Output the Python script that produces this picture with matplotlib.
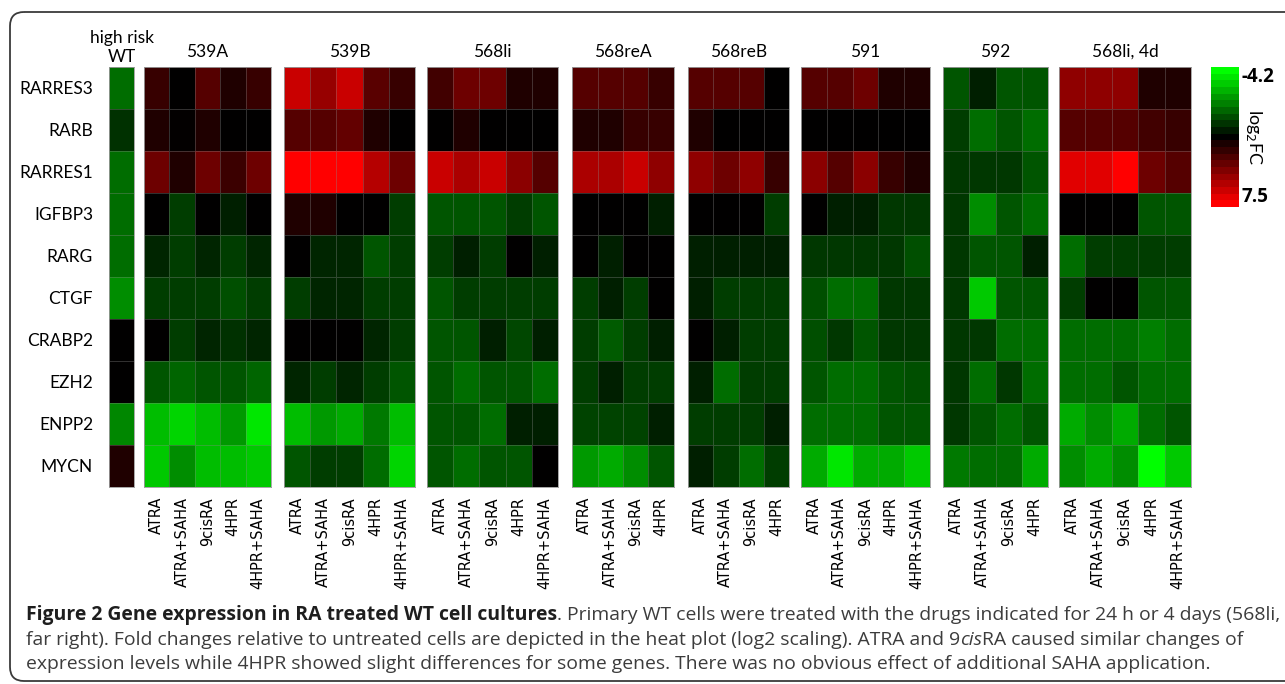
import numpy as np
import matplotlib
matplotlib.use("Agg")
import matplotlib.pyplot as plt
from matplotlib.colors import LinearSegmentedColormap, TwoSlopeNorm
from matplotlib.patches import FancyBboxPatch
from matplotlib.cm import ScalarMappable

# ---------------- data (log2 fold change) ----------------
genes = ["RARRES3", "RARB", "RARRES1", "IGFBP3", "RARG",
         "CTGF", "CRABP2", "EZH2", "ENPP2", "MYCN"]
treat5 = ["ATRA", "ATRA+SAHA", "9cisRA", "4HPR", "4HPR+SAHA"]
treat4 = ["ATRA", "ATRA+SAHA", "9cisRA", "4HPR"]
panel_titles = ["high risk\nWT", "539A", "539B", "568li", "568reA",
                "568reB", "591", "592", "568li, 4d"]
vmin, vmax = -4.2, 7.5

wt_highrisk = [[-1.8], [-0.8], [-1.8], [-1.8], [-1.8],
               [-2.3], [0.0], [0.0], [-2.2], [0.9]]

v539A = [[1.6, 0.0, 2.5, 0.9, 1.6],
         [0.9, 0.1, 0.9, 0.0, 0.0],
         [3.2, 0.9, 3.2, 1.7, 3.2],
         [0.0, -1.0, 0.0, -0.5, 0.0],
         [-0.6, -1.0, -0.6, -1.0, -0.6],
         [-1.0, -1.0, -1.0, -1.3, -1.0],
         [0.0, -1.0, -0.6, -0.8, -0.6],
         [-1.4, -1.65, -1.4, -1.4, -1.65],
         [-3.1, -3.5, -3.1, -2.5, -3.8],
         [-3.3, -2.3, -3.1, -3.1, -3.3]]

v539B = [[5.9, 4.4, 5.9, 2.6, 1.6],
         [2.5, 2.5, 2.9, 0.9, 0.0],
         [7.5, 7.5, 7.5, 5.3, 3.2],
         [0.9, 0.9, 0.0, 0.0, -1.0],
         [0.0, -0.6, -0.6, -1.4, -1.0],
         [-1.0, -0.6, -0.6, -1.0, -1.0],
         [0.0, 0.0, 0.0, -0.6, -1.0],
         [-0.6, -1.0, -0.6, -1.0, -1.4],
         [-3.1, -2.5, -2.8, -2.0, -3.1],
         [-1.4, -1.0, -1.0, -1.8, -3.5]]

v568li = [[1.9, 3.2, 3.2, 0.9, 0.9],
          [0.0, 0.9, 0.0, 0.0, 0.0],
          [5.9, 5.0, 5.9, 4.1, 2.5],
          [-1.4, -1.4, -1.4, -1.0, -1.4],
          [-1.0, -0.5, -1.0, 0.0, -0.5],
          [-1.4, -1.0, -1.0, -1.0, -1.0],
          [-1.4, -1.4, -0.5, -1.15, -0.5],
          [-1.4, -1.8, -1.4, -1.4, -1.8],
          [-1.4, -1.4, -1.8, -0.5, -0.5],
          [-1.4, -1.8, -1.4, -1.4, 0.0]]

v568reA = [[2.5, 2.5, 2.5, 1.6],
           [0.9, 0.9, 1.6, 1.6],
           [5.0, 5.0, 5.9, 4.2],
           [0.0, 0.0, 0.0, -0.5],
           [0.0, -0.5, 0.0, 0.0],
           [-1.0, -0.5, -1.0, 0.0],
           [-1.0, -1.5, -1.0, -0.5],
           [-1.0, -0.5, -1.0, -1.0],
           [-1.1, -1.1, -1.1, -0.5],
           [-2.5, -2.8, -2.3, -1.4]]

v568reB = [[2.5, 2.5, 2.5, 0.0],
           [0.9, 0.0, 0.0, 0.0],
           [4.2, 3.2, 4.2, 1.6],
           [0.0, 0.0, 0.0, -1.0],
           [-0.5, -0.5, -0.5, -0.5],
           [-0.5, -1.0, -1.0, -1.0],
           [0.0, -0.5, -1.0, -1.0],
           [-0.5, -1.8, -1.0, -1.0],
           [-1.0, -1.0, -1.0, -0.5],
           [-0.5, -1.0, -1.8, -1.0]]

v591 = [[2.5, 2.5, 3.2, 0.9, 0.9],
        [0.0, 0.0, 0.0, 0.0, 0.0],
        [4.1, 2.5, 4.1, 1.6, 0.9],
        [0.0, -0.5, -0.5, -0.9, -0.9],
        [-0.9, -0.9, -0.9, -0.9, -1.3],
        [-1.3, -1.8, -1.8, -0.9, -0.9],
        [-1.3, -0.9, -1.4, -0.9, -0.9],
        [-1.4, -1.8, -1.8, -1.4, -1.3],
        [-1.8, -1.8, -1.8, -1.4, -1.4],
        [-2.8, -3.8, -2.8, -2.8, -3.3]]

v592 = [[-1.4, -0.5, -1.4, -1.4],
        [-1.0, -1.8, -1.4, -1.8],
        [-0.9, -0.9, -0.9, -1.4],
        [-0.9, -2.3, -1.4, -1.8],
        [-0.9, -1.4, -1.4, -0.5],
        [-0.9, -3.3, -1.4, -1.4],
        [-0.9, -0.9, -1.8, -1.8],
        [-0.9, -1.8, -0.9, -1.8],
        [-0.9, -1.4, -1.8, -1.4],
        [-2.0, -1.8, -1.8, -2.8]]

v568li4d = [[4.2, 4.2, 4.2, 0.9, 0.9],
            [2.5, 2.5, 2.5, 1.9, 1.6],
            [6.6, 6.6, 7.5, 3.2, 2.5],
            [0.0, 0.0, 0.0, -1.4, -1.4],
            [-1.8, -1.0, -1.0, -1.0, -1.0],
            [-1.0, 0.0, 0.0, -1.4, -1.4],
            [-1.8, -1.8, -1.8, -2.1, -1.8],
            [-1.8, -1.8, -1.4, -1.8, -1.8],
            [-2.8, -2.3, -2.8, -1.8, -1.4],
            [-2.3, -2.8, -2.3, -4.2, -3.3]]

panel_values = [wt_highrisk, v539A, v539B, v568li, v568reA,
                v568reB, v591, v592, v568li4d]
panel_labels = [[], treat5, treat5, treat5, treat4, treat4, treat5, treat4, treat5]

# ---------------- layout (pixels) ----------------
W, H = 1285, 684
fig = plt.figure(figsize=(W / 100, H / 100), dpi=100)
fig.patch.set_facecolor("white")

panel_left = [109, 144, 284, 427, 572, 688, 801, 943, 1059]
panel_right = [134, 271, 415, 558, 674, 789, 930, 1048, 1191]
top_px, bot_px = 67, 487

def px_rect(x0, y0, x1, y1):
    return [x0 / W, 1 - y1 / H, (x1 - x0) / W, (y1 - y0) / H]

# background axes for the frame (right side runs off the picture)
bg = fig.add_axes([0, 0, 1, 1], zorder=-5)
bg.set_xlim(0, W)
bg.set_ylim(H, 0)
bg.axis("off")
bg.add_patch(FancyBboxPatch((10, 12), 1600, 669,
                            boxstyle="round,pad=0,rounding_size=14",
                            fill=False, ec="#3a3a3a", lw=1.3, clip_on=True))

cmap = LinearSegmentedColormap.from_list("gbr", [(0, 1, 0), (0, 0, 0), (1, 0, 0)])
norm = TwoSlopeNorm(vmin=vmin, vcenter=0.0, vmax=vmax)

label_font = "Lato"
for i, (vals, labs, title) in enumerate(zip(panel_values, panel_labels, panel_titles)):
    arr = np.array(vals, dtype=float)
    ax = fig.add_axes(px_rect(panel_left[i], top_px, panel_right[i], bot_px))
    ax.pcolormesh(arr, cmap=cmap, norm=norm,
                  edgecolors=(0.55, 0.55, 0.55, 0.35), linewidth=0.6)
    ax.set_xlim(0, arr.shape[1])
    ax.set_ylim(arr.shape[0], 0)
    for sp in ax.spines.values():
        sp.set_color((0.6, 0.6, 0.6))
        sp.set_linewidth(0.6)
    if labs:
        ax.set_xticks(np.arange(len(labs)) + 0.5)
        ax.set_xticklabels(labs, rotation=90, fontsize=10.5,
                           family="DejaVu Sans", va="top", ha="center")
        ax.tick_params(axis="x", length=0, pad=7.2)
    else:
        ax.set_xticks([])
    if i == 0:
        ax.set_yticks(np.arange(len(genes)) + 0.5)
        ax.set_yticklabels(genes, fontsize=12.5, family=label_font)
        ax.tick_params(axis="y", length=0, pad=11.5)
        ax.annotate(title, xy=(0.5, 1), xycoords="axes fraction",
                    xytext=(0, 1.5), textcoords="offset points",
                    ha="center", va="bottom", fontsize=12.5, family=label_font,
                    linespacing=1.2)
    else:
        ax.set_yticks([])
        ax.annotate(title, xy=(0.5, 1), xycoords="axes fraction",
                    xytext=(0, 7.2), textcoords="offset points",
                    ha="center", va="baseline", fontsize=12.5, family=label_font)

# ---------------- colorbar ----------------
cax = fig.add_axes(px_rect(1211, 67, 1239, 207))
sm = ScalarMappable(norm=norm, cmap=cmap.resampled(21))
cb = fig.colorbar(sm, cax=cax)
cb.outline.set_visible(False)
cax.invert_yaxis()
cb.set_ticks([vmin, vmax])
cb.set_ticklabels(["-4.2", "7.5"])
cax.tick_params(length=0, pad=2)
cax.text(1.55, 0.5, "log$_2$FC", transform=cax.transAxes, rotation=270,
         ha="center", va="center", fontsize=13, family=label_font)

# ---------------- caption ----------------
fig.canvas.draw()
renderer = fig.canvas.get_renderer()
tl = cax.get_yticklabels()
for t in tl:
    t.set_family("Open Sans")
    t.set_fontweight("bold")
    t.set_fontsize(13.5)
tl[0].set_va("top")
tl[1].set_va("bottom")

cap_font = "Open Sans"
bold_col, reg_col = "#1e1e1e", "#3c3c3c"
caption_lines = [
    [("Figure 2 Gene expression in RA treated WT cell cultures", "bold", "normal", bold_col),
     (". Primary WT cells were treated with the drugs indicated for 24 h or 4 days (568li,", "normal", "normal", reg_col)],
    [("far right). Fold changes relative to untreated cells are depicted in the heat plot (log2 scaling). ATRA and 9", "normal", "normal", reg_col),
     ("cis", "normal", "italic", reg_col),
     ("RA caused similar changes of", "normal", "normal", reg_col)],
    [("expression levels while 4HPR showed slight differences for some genes. There was no obvious effect of additional SAHA application.", "normal", "normal", reg_col)],
]
caption_y = [620, 645, 669]
caption_x0 = 26
target_w1 = 1252

def piece_width(txt, weight, style, size):
    t = fig.text(0, 0, txt, fontsize=size, family=cap_font, weight=weight, style=style)
    w = t.get_window_extent(renderer).width
    t.remove()
    return w

base = 12.0
w1 = sum(piece_width(p[0], p[1], p[2], base) for p in caption_lines[0])
cap_size = base * target_w1 / w1

for line, y in zip(caption_lines, caption_y):
    x = caption_x0
    for txt, weight, style, col in line:
        fig.text(x / W, 1 - y / H, txt, fontsize=cap_size, family=cap_font,
                 weight=weight, style=style, color=col, ha="left", va="baseline")
        x += piece_width(txt, weight, style, cap_size)

fig.savefig("out.png", dpi=100, facecolor="white")
